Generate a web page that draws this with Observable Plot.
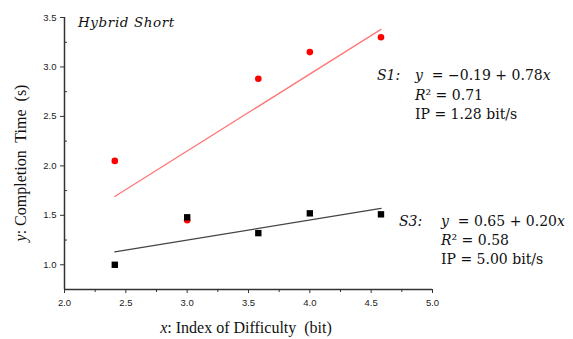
<!DOCTYPE html>
<html><head><meta charset="utf-8">
<script src="https://cdn.jsdelivr.net/npm/d3@7"></script>
<script src="https://cdn.jsdelivr.net/npm/@observablehq/plot@0.6"></script>
<style>body{margin:0;background:#fff}svg{display:block}</style>
</head><body><div id="chart"></div>
<script>
// data
const indexOfDifficulty = [2.41, 3.0, 3.58, 4.0, 4.58];
const timeS1 = [2.05, 1.45, 2.88, 3.15, 3.30];
const timeS3 = [1.00, 1.48, 1.32, 1.52, 1.51];
const fitX = [2.41, 4.58];
const fitS1 = [1.69, 3.38];
const fitS3 = [1.13, 1.57];
const xTicks = [2.0, 2.5, 3.0, 3.5, 4.0, 4.5, 5.0];
const xMinor = [2.25, 2.75, 3.25, 3.75, 4.25, 4.75];
const yTicks = [1.0, 1.5, 2.0, 2.5, 3.0, 3.5];
const yMinor = [1.25, 1.75, 2.25, 2.75, 3.25];

const s1 = indexOfDifficulty.map((x, i) => ({x, y: timeS1[i]}));
const s3 = indexOfDifficulty.map((x, i) => ({x, y: timeS3[i]}));
const f1 = fitX.map((x, i) => ({x, y: fitS1[i]}));
const f3 = fitX.map((x, i) => ({x, y: fitS3[i]}));

const axisColor = "#333";
const plot = Plot.plot({
  width: 573, height: 339,
  marginLeft: 64, marginRight: 141, marginTop: 17, marginBottom: 50,
  style: {fontFamily: "Liberation Sans, Arial, sans-serif", fontSize: "9px", color: "#333", background: "#fff", overflow: "visible"},
  x: {domain: [2, 5], label: null},
  y: {domain: [0.75, 3.5], label: null},
  marks: [
    Plot.axisX(xTicks, {tickSize: 4, tickPadding: 6, tickFormat: d3.format(".1f"), stroke: axisColor, fill: "#222", fontSize: 9.5, letterSpacing: 1.3}),
    Plot.axisX(xMinor, {tickSize: 3, tickFormat: () => "", stroke: axisColor}),
    Plot.axisY(yTicks, {tickSize: 4, tickPadding: 4, tickFormat: d3.format(".1f"), stroke: axisColor, fill: "#222", fontSize: 9.5, letterSpacing: 1.3}),
    Plot.axisY(yMinor, {tickSize: -3, tickFormat: () => "", stroke: axisColor}),
    Plot.ruleX([2], {y1: 0.75, y2: 3.5, stroke: axisColor, strokeWidth: 1.5}),
    Plot.ruleY([0.75], {x1: 2, x2: 5, stroke: axisColor, strokeWidth: 1.5}),
    Plot.line(f1, {x: "x", y: "y", stroke: "#f77", strokeWidth: 1.3}),
    Plot.line(f3, {x: "x", y: "y", stroke: "#444", strokeWidth: 1.3}),
    Plot.dot(s1, {x: "x", y: "y", r: 3.3, fill: "#f00", stroke: "none"}),
    Plot.dot(s3, {x: "x", y: "y", symbol: "square", r: 3.6, fill: "#000", stroke: "none"})
  ]
});
document.getElementById("chart").appendChild(plot);

const svg = d3.select(plot);
const serif = "DejaVu Serif, serif";
const times = "Liberation Serif, Times New Roman, serif";

function addText(x, y, parts, opts = {}) {
  const t = svg.append("text").attr("x", x).attr("y", y)
    .attr("font-family", opts.family || serif).attr("font-size", opts.size || 13)
    .attr("fill", "#111").attr("text-anchor", opts.anchor || "start");
  if (opts.rotate) t.attr("transform", `rotate(-90 ${x} ${y})`).attr("text-anchor", "middle");
  if (opts.ls) t.attr("letter-spacing", opts.ls);
  parts.forEach(([s, it, extra]) => {
    const ts = t.append("tspan").text(s);
    if (it) ts.attr("font-style", "italic");
    if (extra) Object.entries(extra).forEach(([k, v]) => ts.attr(k, v));
  });
  return t;
}

addText(78, 27, [["Hybrid Short", true]], {family: serif, size: 13.5, ls: 0.6});

addText(377, 80, [["S1:", true]], {size: 14});
addText(415, 80, [["y", true], ["  = −0.19 + 0.78"], ["x", true]], {size: 14});
addText(415, 100, [["R", true], ["²", false], [" = 0.71"]], {size: 14});
addText(415, 119, [["IP = 1.28 bit/s"]], {size: 14});

addText(399, 226, [["S3:", true]], {size: 14});
addText(441, 226, [["y", true], ["  = 0.65 + 0.20"], ["x", true]], {size: 14});
addText(441, 245, [["R", true], ["²", false], [" = 0.58"]], {size: 14});
addText(441, 264, [["IP = 5.00 bit/s"]], {size: 14});

addText(246, 333, [["x", true], [": Index of Difficulty  (bit)"]], {family: times, size: 16, anchor: "middle"});
addText(26, 163, [["y", true], [": Completion  Time  (s)"]], {family: times, size: 16, rotate: true});
</script></body></html>
